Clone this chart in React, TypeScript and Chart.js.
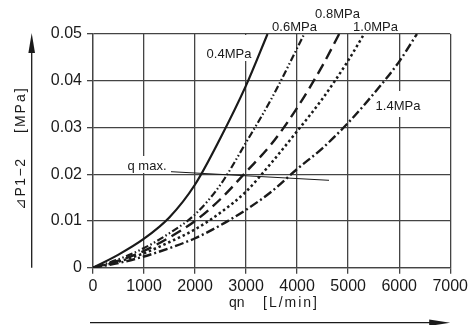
import React, { useEffect, useRef } from "react";
import { Chart, registerables } from "chart.js";

Chart.register(...registerables);

// Flow rate qn [L/min] and pressure drop ΔP1-2 [MPa] for each inlet pressure
const q04 = [0, 500, 1000, 1500, 2000, 2500, 3000, 3420];
const p04 = [0, 0.0028, 0.0062, 0.0108, 0.0178, 0.0278, 0.039, 0.05];

const q06 = [0, 500, 1000, 1500, 2000, 2500, 3000, 3500, 4140];
const p06 = [0, 0.0018, 0.0042, 0.0074, 0.0114, 0.0178, 0.0268, 0.0362, 0.05];

const q08 = [0, 500, 1000, 1500, 2000, 2500, 3000, 3500, 4000, 4500, 4824];
const p08 = [0, 0.0015, 0.0036, 0.0065, 0.01, 0.0147, 0.0205, 0.0265, 0.0342, 0.0433, 0.05];

const q10 = [0, 500, 1000, 1500, 2000, 2500, 3000, 3500, 4000, 4500, 5000, 5312];
const p10 = [0, 0.0013, 0.0031, 0.0055, 0.0082, 0.0118, 0.0163, 0.0225, 0.0292, 0.0362, 0.0443, 0.05];

const q14 = [0, 500, 1000, 1500, 2000, 2500, 3000, 3500, 4000, 4500, 5000, 5500, 6000, 6348];
const p14 = [0, 0.001, 0.0024, 0.0042, 0.0063, 0.0091, 0.0124, 0.0163, 0.0211, 0.0256, 0.031, 0.0372, 0.0441, 0.05];

const seriesLabels = ["0.4MPa", "0.6MPa", "0.8MPa", "1.0MPa", "1.4MPa"];
const xTicks = [0, 1000, 2000, 3000, 4000, 5000, 6000, 7000];
const yTicks = [0, 0.01, 0.02, 0.03, 0.04, 0.05];
const xTitle = ["qn", "[L/min]"];
const yTitle = ["⊿P1−2", "[MPa]"];
const qMaxLabel = "q max.";

const FONT = "'Liberation Sans', Arial, Helvetica, sans-serif";
const INK = "#1a1a1a";

const toPts = (q: number[], p: number[]) => q.map((x, i) => ({ x, y: p[i] }));

export default function App() {
  const ref = useRef<HTMLCanvasElement | null>(null);

  useEffect(() => {
    const canvas = ref.current;
    if (!canvas) return;

    const overlay = {
      id: "overlay",
      beforeDatasetsDraw(chart: any) {
        const ctx = chart.ctx;
        ctx.save();
        ctx.fillStyle = "#ffffff";
        // gaps in the grid behind labels
        ctx.fillRect(207, 35, 50, 26);
        ctx.fillRect(125, 156, 44, 17);
        ctx.fillRect(373, 91, 50, 26);
        ctx.restore();
      },
      afterDraw(chart: any) {
        const ctx = chart.ctx;
        const xs = chart.scales.x;
        const ys = chart.scales.y;
        ctx.save();
        ctx.fillStyle = INK;
        ctx.strokeStyle = INK;
        ctx.font = `13px ${FONT}`;
        ctx.textBaseline = "alphabetic";
        ctx.textAlign = "center";
        const lbl = [
          [229, 58],
          [294.5, 31],
          [337.5, 18.3],
          [375.5, 31],
          [398, 110],
        ];
        seriesLabels.forEach((t, i) => ctx.fillText(t, lbl[i][0], lbl[i][1]));
        ctx.fillText(qMaxLabel, 147, 169.5);

        // q max leader line
        ctx.lineWidth = 1;
        ctx.beginPath();
        ctx.moveTo(171, 171.7);
        ctx.lineTo(329, 180.3);
        ctx.stroke();

        // x-axis title
        ctx.font = `14px ${FONT}`;
        ctx.textAlign = "left";
        ctx.fillText(xTitle[0], 229, 306.5);
        (ctx as any).letterSpacing = "2px";
        ctx.fillText(xTitle[1], 263, 306.5);
        (ctx as any).letterSpacing = "0px";

        // y-axis title (rotated)
        ctx.save();
        ctx.translate(24.5, 210);
        ctx.rotate(-Math.PI / 2);
        (ctx as any).letterSpacing = "1.5px";
        ctx.fillText(yTitle[0], 0, 0);
        ctx.restore();
        ctx.save();
        ctx.translate(24.5, 133);
        ctx.rotate(-Math.PI / 2);
        (ctx as any).letterSpacing = "2px";
        ctx.fillText(yTitle[1], 0, 0);
        ctx.restore();

        // x arrow
        const ax0 = xs.left - 3;
        const ax1 = xs.right;
        const ay = 322.7;
        ctx.lineWidth = 1.3;
        ctx.beginPath();
        ctx.moveTo(ax0, ay);
        ctx.lineTo(ax1 - 15, ay);
        ctx.stroke();
        ctx.beginPath();
        ctx.moveTo(ax1, ay);
        ctx.lineTo(ax1 - 21, ay - 3.3);
        ctx.lineTo(ax1 - 21, ay + 3.3);
        ctx.closePath();
        ctx.fill();

        // y arrow
        const yx = 31.7;
        const yb = ys.bottom;
        const yt = ys.top - 1;
        ctx.beginPath();
        ctx.moveTo(yx, yb);
        ctx.lineTo(yx, yt + 15);
        ctx.stroke();
        ctx.beginPath();
        ctx.moveTo(yx, yt);
        ctx.lineTo(yx - 3.3, yt + 20);
        ctx.lineTo(yx + 3.3, yt + 20);
        ctx.closePath();
        ctx.fill();
        ctx.restore();
      },
    };

    const common = {
      pointRadius: 0,
      borderColor: INK,
      fill: false,
      cubicInterpolationMode: "monotone" as const,
      borderCapStyle: "butt" as const,
    };

    const chart = new Chart(canvas, {
      type: "line",
      data: {
        datasets: [
          { ...common, label: seriesLabels[0], data: toPts(q04, p04), borderWidth: 2.2, borderDash: [] },
          { ...common, label: seriesLabels[1], data: toPts(q06, p06), borderWidth: 2.2, borderDash: [7, 2.5, 1.5, 2.5, 1.5, 2.5] },
          { ...common, label: seriesLabels[2], data: toPts(q08, p08), borderWidth: 2.4, borderDash: [11, 6] },
          { ...common, label: seriesLabels[3], data: toPts(q10, p10), borderWidth: 2.5, borderDash: [2.5, 2.8] },
          { ...common, label: seriesLabels[4], data: toPts(q14, p14), borderWidth: 2.4, borderDash: [9, 3, 2, 3] },
        ],
      },
      options: {
        responsive: false,
        animation: false,
        devicePixelRatio: 1,
        layout: { padding: { left: 0, right: 20, top: 34, bottom: 0 } },
        plugins: { legend: { display: false }, tooltip: { enabled: false } },
        scales: {
          x: {
            type: "linear",
            min: 0,
            max: 7000,
            afterBuildTicks: (s: any) => {
              s.ticks = xTicks.map((v) => ({ value: v }));
            },
            afterFit: (s: any) => {
              s.height = 325 - 267.7;
            },
            ticks: {
              color: INK,
              font: { family: FONT, size: 16 },
              padding: 3,
              maxRotation: 0,
              callback: (v: any) => String(v),
            },
            grid: { color: "#444", lineWidth: 1.3, tickLength: 6, drawTicks: true },
            border: { color: "#444", width: 1.3 },
          },
          y: {
            type: "linear",
            min: 0,
            max: 0.05,
            afterBuildTicks: (s: any) => {
              s.ticks = yTicks.map((v) => ({ value: v }));
            },
            afterFit: (s: any) => {
              s.width = 93;
            },
            ticks: {
              color: INK,
              font: { family: FONT, size: 16 },
              padding: 5,
              callback: (v: any) => (v === 0 ? "0" : Number(v).toFixed(2)),
            },
            grid: { color: "#444", lineWidth: 1.3, tickLength: 6, drawTicks: true },
            border: { color: "#444", width: 1.3 },
          },
        },
      },
      plugins: [overlay],
    } as any);

    return () => chart.destroy();
  }, []);

  return (
    <div style={{ position: "fixed", left: 0, top: 0, width: 471, height: 325, background: "#fff" }}>
      <canvas ref={ref} width={471} height={325} style={{ display: "block", width: 471, height: 325 }} />
    </div>
  );
}
